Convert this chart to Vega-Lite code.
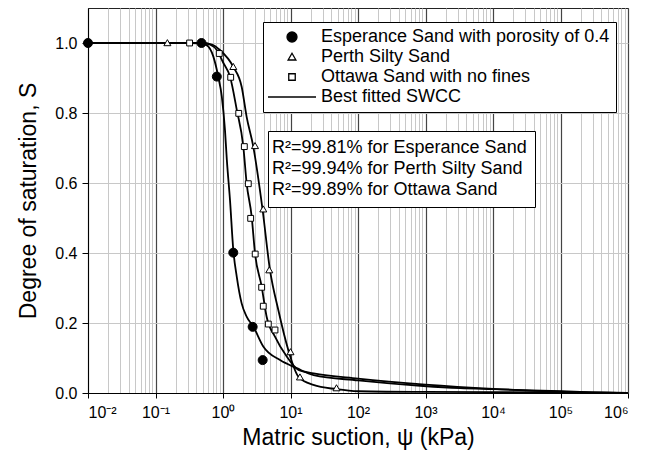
{
  "$schema": "https://vega.github.io/schema/vega-lite/v6.json",
  "width": 540,
  "height": 385,
  "autosize": {"type": "none"},
  "padding": {"left": 88, "top": 8, "right": 20, "bottom": 70},
  "background": "white",
  "config": {
    "font": "Liberation Sans",
    "view": {"stroke": "#222", "strokeWidth": 1},
    "axis": {"labelColor": "black", "titleColor": "black", "titleFontWeight": "normal", "labelFont": "Liberation Sans", "titleFont": "Liberation Sans"},
    "legend": {"labelFont": "Liberation Sans", "labelColor": "black"}
  },
  "datasets": {
    "points": [
      {"sand": "Esperance Sand with porosity of 0.4", "psi": 0.01, "S": 1.0},
      {"sand": "Esperance Sand with porosity of 0.4", "psi": 0.48, "S": 1.0},
      {"sand": "Esperance Sand with porosity of 0.4", "psi": 0.81, "S": 0.904},
      {"sand": "Esperance Sand with porosity of 0.4", "psi": 1.42, "S": 0.401},
      {"sand": "Esperance Sand with porosity of 0.4", "psi": 2.75, "S": 0.189},
      {"sand": "Esperance Sand with porosity of 0.4", "psi": 3.87, "S": 0.094},
      {"sand": "Perth Silty Sand", "psi": 0.15, "S": 1.0},
      {"sand": "Perth Silty Sand", "psi": 1.42, "S": 0.932},
      {"sand": "Perth Silty Sand", "psi": 2.98, "S": 0.706},
      {"sand": "Perth Silty Sand", "psi": 3.95, "S": 0.525},
      {"sand": "Perth Silty Sand", "psi": 4.85, "S": 0.351},
      {"sand": "Perth Silty Sand", "psi": 10.0, "S": 0.117},
      {"sand": "Perth Silty Sand", "psi": 13.8, "S": 0.045},
      {"sand": "Perth Silty Sand", "psi": 48, "S": 0.014},
      {"sand": "Ottawa Sand with no fines", "psi": 0.32, "S": 1.0},
      {"sand": "Ottawa Sand with no fines", "psi": 0.88, "S": 0.97},
      {"sand": "Ottawa Sand with no fines", "psi": 1.3, "S": 0.902},
      {"sand": "Ottawa Sand with no fines", "psi": 1.71, "S": 0.799},
      {"sand": "Ottawa Sand with no fines", "psi": 2.07, "S": 0.704},
      {"sand": "Ottawa Sand with no fines", "psi": 2.37, "S": 0.598},
      {"sand": "Ottawa Sand with no fines", "psi": 2.57, "S": 0.499},
      {"sand": "Ottawa Sand with no fines", "psi": 3.0, "S": 0.397},
      {"sand": "Ottawa Sand with no fines", "psi": 3.74, "S": 0.302},
      {"sand": "Ottawa Sand with no fines", "psi": 3.95, "S": 0.248},
      {"sand": "Ottawa Sand with no fines", "psi": 4.69, "S": 0.197},
      {"sand": "Ottawa Sand with no fines", "psi": 5.89, "S": 0.18}
    ],
    "curves": [
      {"fit": "R²=99.81% for Esperance Sand", "psi": 0.01, "S": 1.0},
      {"fit": "R²=99.81% for Esperance Sand", "psi": 0.3, "S": 1.0},
      {"fit": "R²=99.81% for Esperance Sand", "psi": 0.45, "S": 0.999},
      {"fit": "R²=99.81% for Esperance Sand", "psi": 0.57, "S": 0.994},
      {"fit": "R²=99.81% for Esperance Sand", "psi": 0.72, "S": 0.961},
      {"fit": "R²=99.81% for Esperance Sand", "psi": 0.85, "S": 0.904},
      {"fit": "R²=99.81% for Esperance Sand", "psi": 0.96, "S": 0.847},
      {"fit": "R²=99.81% for Esperance Sand", "psi": 1.07, "S": 0.751},
      {"fit": "R²=99.81% for Esperance Sand", "psi": 1.14, "S": 0.666},
      {"fit": "R²=99.81% for Esperance Sand", "psi": 1.27, "S": 0.551},
      {"fit": "R²=99.81% for Esperance Sand", "psi": 1.42, "S": 0.409},
      {"fit": "R²=99.81% for Esperance Sand", "psi": 1.6, "S": 0.332},
      {"fit": "R²=99.81% for Esperance Sand", "psi": 1.89, "S": 0.256},
      {"fit": "R²=99.81% for Esperance Sand", "psi": 2.24, "S": 0.218},
      {"fit": "R²=99.81% for Esperance Sand", "psi": 2.81, "S": 0.19},
      {"fit": "R²=99.81% for Esperance Sand", "psi": 3.95, "S": 0.133},
      {"fit": "R²=99.81% for Esperance Sand", "psi": 7.0, "S": 0.094},
      {"fit": "R²=99.81% for Esperance Sand", "psi": 12.4, "S": 0.071},
      {"fit": "R²=99.81% for Esperance Sand", "psi": 22, "S": 0.051},
      {"fit": "R²=99.81% for Esperance Sand", "psi": 100, "S": 0.036},
      {"fit": "R²=99.81% for Esperance Sand", "psi": 930, "S": 0.02},
      {"fit": "R²=99.81% for Esperance Sand", "psi": 3240, "S": 0.014},
      {"fit": "R²=99.81% for Esperance Sand", "psi": 10000, "S": 0.011},
      {"fit": "R²=99.81% for Esperance Sand", "psi": 100000, "S": 0.005},
      {"fit": "R²=99.81% for Esperance Sand", "psi": 300000, "S": 0.002},
      {"fit": "R²=99.81% for Esperance Sand", "psi": 1000000, "S": 0.0},
      {"fit": "R²=99.94% for Perth Silty Sand", "psi": 0.01, "S": 1.0},
      {"fit": "R²=99.94% for Perth Silty Sand", "psi": 0.5, "S": 1.0},
      {"fit": "R²=99.94% for Perth Silty Sand", "psi": 0.7, "S": 0.995},
      {"fit": "R²=99.94% for Perth Silty Sand", "psi": 0.9, "S": 0.98},
      {"fit": "R²=99.94% for Perth Silty Sand", "psi": 1.42, "S": 0.932},
      {"fit": "R²=99.94% for Perth Silty Sand", "psi": 1.89, "S": 0.875},
      {"fit": "R²=99.94% for Perth Silty Sand", "psi": 2.24, "S": 0.789},
      {"fit": "R²=99.94% for Perth Silty Sand", "psi": 2.81, "S": 0.704},
      {"fit": "R²=99.94% for Perth Silty Sand", "psi": 3.85, "S": 0.525},
      {"fit": "R²=99.94% for Perth Silty Sand", "psi": 4.97, "S": 0.351},
      {"fit": "R²=99.94% for Perth Silty Sand", "psi": 6.6, "S": 0.237},
      {"fit": "R²=99.94% for Perth Silty Sand", "psi": 9.27, "S": 0.123},
      {"fit": "R²=99.94% for Perth Silty Sand", "psi": 13.1, "S": 0.047},
      {"fit": "R²=99.94% for Perth Silty Sand", "psi": 21.8, "S": 0.023},
      {"fit": "R²=99.94% for Perth Silty Sand", "psi": 48, "S": 0.011},
      {"fit": "R²=99.94% for Perth Silty Sand", "psi": 100, "S": 0.005},
      {"fit": "R²=99.94% for Perth Silty Sand", "psi": 1000, "S": 0.003},
      {"fit": "R²=99.94% for Perth Silty Sand", "psi": 100000, "S": 0.002},
      {"fit": "R²=99.94% for Perth Silty Sand", "psi": 1000000, "S": 0.0},
      {"fit": "R²=99.89% for Ottawa Sand", "psi": 0.01, "S": 1.0},
      {"fit": "R²=99.89% for Ottawa Sand", "psi": 0.5, "S": 1.0},
      {"fit": "R²=99.89% for Ottawa Sand", "psi": 0.65, "S": 0.995},
      {"fit": "R²=99.89% for Ottawa Sand", "psi": 0.81, "S": 0.98},
      {"fit": "R²=99.89% for Ottawa Sand", "psi": 1.0, "S": 0.945},
      {"fit": "R²=99.89% for Ottawa Sand", "psi": 1.27, "S": 0.904},
      {"fit": "R²=99.89% for Ottawa Sand", "psi": 1.6, "S": 0.809},
      {"fit": "R²=99.89% for Ottawa Sand", "psi": 2.0, "S": 0.704},
      {"fit": "R²=99.89% for Ottawa Sand", "psi": 2.24, "S": 0.599},
      {"fit": "R²=99.89% for Ottawa Sand", "psi": 2.66, "S": 0.504},
      {"fit": "R²=99.89% for Ottawa Sand", "psi": 2.98, "S": 0.399},
      {"fit": "R²=99.89% for Ottawa Sand", "psi": 3.74, "S": 0.304},
      {"fit": "R²=99.89% for Ottawa Sand", "psi": 4.43, "S": 0.218},
      {"fit": "R²=99.89% for Ottawa Sand", "psi": 5.89, "S": 0.161},
      {"fit": "R²=99.89% for Ottawa Sand", "psi": 8.8, "S": 0.104},
      {"fit": "R²=99.89% for Ottawa Sand", "psi": 13.1, "S": 0.066},
      {"fit": "R²=99.89% for Ottawa Sand", "psi": 22, "S": 0.056},
      {"fit": "R²=99.89% for Ottawa Sand", "psi": 100, "S": 0.041},
      {"fit": "R²=99.89% for Ottawa Sand", "psi": 1000, "S": 0.024},
      {"fit": "R²=99.89% for Ottawa Sand", "psi": 10000, "S": 0.012},
      {"fit": "R²=99.89% for Ottawa Sand", "psi": 100000, "S": 0.004},
      {"fit": "R²=99.89% for Ottawa Sand", "psi": 1000000, "S": 0.0}
    ]
  },
  "layer": [
    {
      "data": {"name": "curves"},
      "mark": {"type": "line", "interpolate": "monotone", "strokeWidth": 1.8},
      "encoding": {
        "x": {
          "field": "psi", "type": "quantitative",
          "scale": {"type": "log", "domain": [0.01, 1000000]},
          "axis": {
            "orient": "top", "title": null, "labels": false, "ticks": false, "domain": false,
            "grid": true, "gridColor": "#c8c8c8", "gridWidth": 1,
            "values": [0.02,0.03,0.04,0.05,0.06,0.07,0.08,0.09,0.2,0.3,0.4,0.5,0.6,0.7,0.8,0.9,2,3,4,5,6,7,8,9,20,30,40,50,60,70,80,90,200,300,400,500,600,700,800,900,2000,3000,4000,5000,6000,7000,8000,9000,20000,30000,40000,50000,60000,70000,80000,90000,200000,300000,400000,500000,600000,700000,800000,900000]
          }
        },
        "y": {
          "field": "S", "type": "quantitative",
          "scale": {"domain": [0, 1.1]},
          "axis": {
            "values": [0, 0.2, 0.4, 0.6, 0.8, 1.0], "format": ".1f", "labelFontSize": 16,
            "tickSize": 6, "labelPadding": 5, "grid": true, "gridColor": "#c8c8c8",
            "domainColor": "black", "tickColor": "black",
            "title": "Degree of saturation, S", "titleFontSize": 23, "titlePadding": 14
          }
        },
        "color": {
          "field": "fit", "type": "nominal",
          "scale": {"domain": ["R²=99.81% for Esperance Sand", "R²=99.94% for Perth Silty Sand", "R²=99.89% for Ottawa Sand"], "range": ["black", "black", "black"]},
          "legend": {
            "title": null, "orient": "none", "legendX": 180, "legendY": 123,
            "labelFontSize": 18, "labelLimit": 500, "padding": 8, "rowPadding": 3,
            "strokeColor": "black", "fillColor": "white",
            "symbolSize": 0, "symbolStrokeWidth": 0, "symbolType": "circle", "labelOffset": -22
          }
        }
      }
    },
    {
      "data": {"name": "points"},
      "mark": {"type": "point", "filled": true, "strokeWidth": 1, "size": 81, "opacity": 1},
      "encoding": {
        "x": {
          "field": "psi", "type": "quantitative",
          "scale": {"type": "log", "domain": [0.01, 1000000]},
          "axis": {
            "orient": "bottom",
            "values": [0.01, 0.1, 1, 10, 100, 1000, 10000, 100000, 1000000],
            "labelExpr": "'10' + ['⁻²','⁻¹','⁰','¹','²','³','⁴','⁵','⁶'][round(log(datum.value)/LN10)+2]",
            "labelFontSize": 16, "labelPadding": 6, "tickSize": 5, "tickColor": "black", "domainColor": "black",
            "grid": true, "gridColor": "#444444", "gridWidth": 1.2,
            "title": "Matric suction, ψ (kPa)", "titleFontSize": 23, "titlePadding": 6
          }
        },
        "y": {
          "field": "S", "type": "quantitative",
          "scale": {"domain": [0, 1.1]},
          "axis": {
            "values": [0, 0.2, 0.4, 0.6, 0.8, 1.0], "format": ".1f", "labelFontSize": 16,
            "tickSize": 6, "labelPadding": 5, "grid": true, "gridColor": "#c8c8c8",
            "domainColor": "black", "tickColor": "black",
            "title": "Degree of saturation, S", "titleFontSize": 23, "titlePadding": 14
          }
        },
        "shape": {
          "field": "sand", "type": "nominal",
          "scale": {
            "domain": ["Esperance Sand with porosity of 0.4", "Perth Silty Sand", "Ottawa Sand with no fines", "Best fitted SWCC"],
            "range": ["circle", "M0,-0.75L0.78,0.6L-0.78,0.6Z", "M-0.65,-0.65H0.65V0.65H-0.65Z", "M-4.8,0H4.8"]
          },
          "legend": {
            "title": null, "orient": "none", "legendX": 175, "legendY": 14,
            "labelFontSize": 18, "labelLimit": 500, "padding": 6, "rowPadding": 2,
            "strokeColor": "black", "fillColor": "white",
            "symbolOffset": 14, "labelOffset": 20, "symbolStrokeWidth": 1.3
          }
        },
        "fill": {
          "field": "sand", "type": "nominal",
          "scale": {
            "domain": ["Esperance Sand with porosity of 0.4", "Perth Silty Sand", "Ottawa Sand with no fines", "Best fitted SWCC"],
            "range": ["black", "white", "white", "white"]
          },
          "legend": {
            "title": null, "orient": "none", "legendX": 175, "legendY": 14,
            "labelFontSize": 18, "labelLimit": 500, "padding": 6, "rowPadding": 2,
            "strokeColor": "black", "fillColor": "white",
            "symbolOffset": 14, "labelOffset": 20, "symbolStrokeWidth": 1.3
          }
        },
        "stroke": {
          "field": "sand", "type": "nominal",
          "scale": {
            "domain": ["Esperance Sand with porosity of 0.4", "Perth Silty Sand", "Ottawa Sand with no fines", "Best fitted SWCC"],
            "range": ["black", "black", "black", "black"]
          },
          "legend": {
            "title": null, "orient": "none", "legendX": 175, "legendY": 14,
            "labelFontSize": 18, "labelLimit": 500, "padding": 6, "rowPadding": 2,
            "strokeColor": "black", "fillColor": "white",
            "symbolOffset": 14, "labelOffset": 20, "symbolStrokeWidth": 1.3
          }
        }
      }
    }
  ],
  "resolve": {"axis": {"x": "independent"}}
}
